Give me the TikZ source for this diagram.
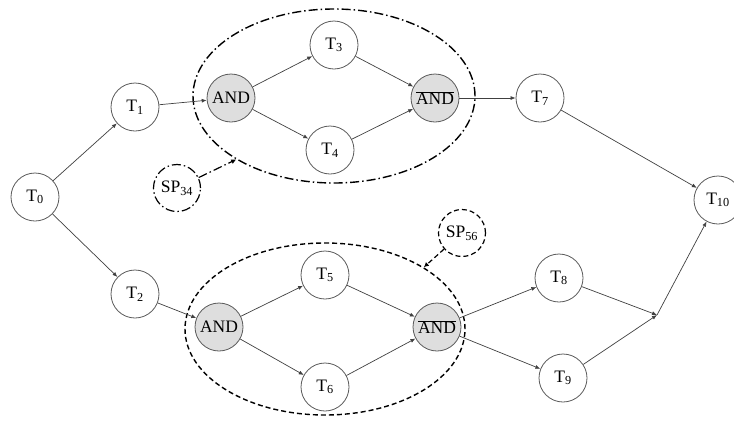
\documentclass[tikz,border=0pt]{standalone}
\usepackage{fontspec}
\setmainfont{Liberation Serif}
\usetikzlibrary{arrows.meta,shapes.geometric}
\begin{document}
\begin{tikzpicture}[x=1pt,y=-1pt,
  task/.style={circle,draw=black!65,line width=0.8pt,minimum size=48pt,inner sep=0pt,font=\fontsize{17.5}{20}\selectfont},
  gate/.style={task,fill=black!13},
  dd/.style={dash pattern=on 9pt off 3pt on 1.5pt off 3pt},
  ds/.style={dash pattern=on 5pt off 3pt},
  sp/.style={task,draw=black,line width=1.2pt,minimum size=47pt},
  grp/.style={ellipse,draw=black,line width=1.4pt,inner sep=0pt},
  edge/.style={draw=black!75,line width=0.7pt,-{Latex[length=5pt,width=4pt]}},
  spedge/.style={draw=black,line width=1.2pt,-{Latex[length=5pt,width=5pt]}}
]
\useasboundingbox (0,0) rectangle (734,421);
% groups
\node[grp,dd,minimum width=282pt,minimum height=174pt] (E1) at (334,96) {};
\node[grp,ds,minimum width=280pt,minimum height=172pt] (E2) at (325,329) {};
% tasks
\node[task] (T0) at (35,197) {T\textsubscript{0}};
\node[task] (T1) at (135,107) {T\textsubscript{1}};
\node[task] (T2) at (135,294) {T\textsubscript{2}};
\node[gate] (A1) at (231,98) {AND};
\node[task] (T3) at (334,45) {T\textsubscript{3}};
\node[task] (T4) at (330,150) {T\textsubscript{4}};
\node[gate] (B1) at (435,98) {$\overline{\mbox{AND}}$};
\node[task] (T7) at (540,98) {T\textsubscript{7}};
\node[task] (T10) at (718,200) {T\textsubscript{10}};
\node[gate] (A2) at (219,327) {AND};
\node[task] (T5) at (325,275) {T\textsubscript{5}};
\node[task] (T6) at (325,387) {T\textsubscript{6}};
\node[gate] (B2) at (437,327) {$\overline{\mbox{AND}}$};
\node[task] (T8) at (559,278) {T\textsubscript{8}};
\node[task] (T9) at (563,378) {T\textsubscript{9}};
\coordinate (J) at (657,315);
\node[sp,dd] (SP34) at (177,188) {SP\textsubscript{34}};
\node[sp,ds] (SP56) at (462,233) {SP\textsubscript{56}};
% edges
\draw[edge] (T0) -- (T1);
\draw[edge] (T0) -- (T2);
\draw[edge] (T1) -- (A1);
\draw[edge] (A1) -- (T3);
\draw[edge] (A1) -- (T4);
\draw[edge] (T3) -- (B1);
\draw[edge] (T4) -- (B1);
\draw[edge] (B1) -- (T7);
\draw[edge] (T7) -- (T10);
\draw[edge] (T2) -- (A2);
\draw[edge] (A2) -- (T5);
\draw[edge] (A2) -- (T6);
\draw[edge] (T5) -- (B2);
\draw[edge] (T6) -- (B2);
\draw[edge] (B2) -- (T8);
\draw[edge] (B2) -- (T9);
\draw[edge] (T8) -- (J);
\draw[edge] (T9) -- (J);
\draw[edge] (J) -- (T10);
\draw[spedge,dd] (SP34) -- (E1.213);
\draw[spedge,ds] (SP56) -- (E2.32);
\end{tikzpicture}
\end{document}
